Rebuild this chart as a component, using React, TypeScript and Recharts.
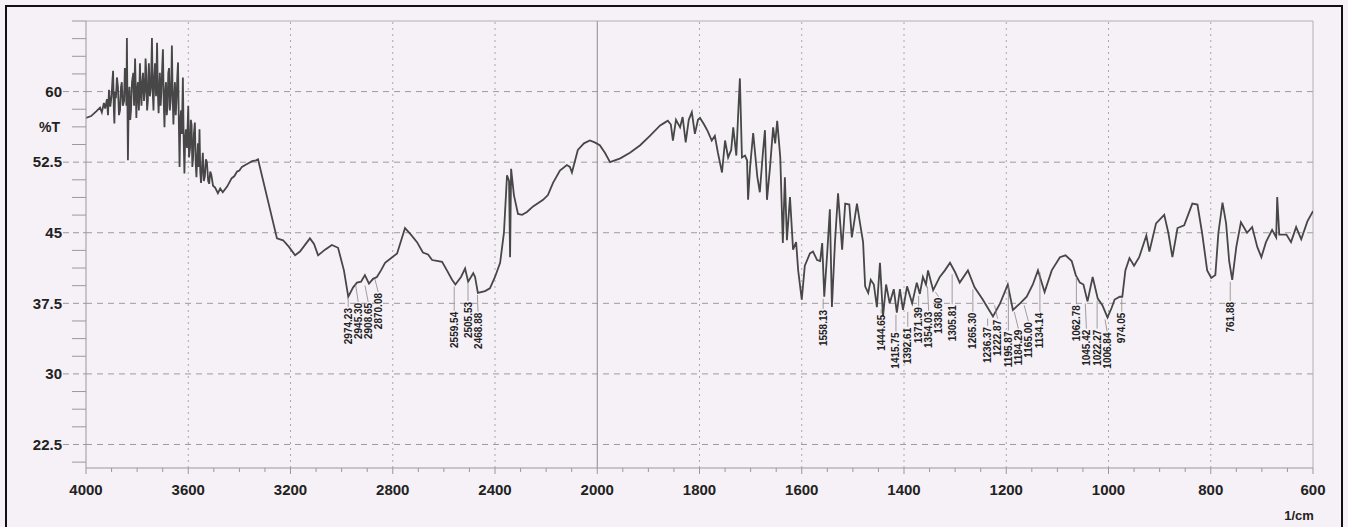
import React from "react";
import { ComposedChart, Line, Scatter, XAxis, YAxis, ReferenceLine } from "recharts";

// FTIR spectrum: [wavenumber (1/cm), %T]
const spectrum: [number, number][] = [
  [4000, 57.2], [3980, 57.4], [3960, 57.9], [3945, 58.3], [3938, 57.8], [3930, 58.8], [3925, 58.2], [3918, 59.2],
  [3914, 57.5], [3910, 60.2], [3905, 58.4], [3900, 59.5], [3897, 61.0], [3894, 62.2], [3891, 58.0], [3889, 56.6],
  [3886, 60.0], [3883, 59.3], [3879, 61.5], [3875, 60.5], [3871, 57.5], [3867, 58.0], [3863, 60.5], [3860, 61.0],
  [3856, 58.5], [3851, 59.0], [3848, 62.5], [3845, 61.8], [3842, 58.5], [3840, 65.7], [3836, 52.7], [3833, 59.0],
  [3830, 60.5], [3827, 57.0], [3824, 58.0], [3820, 61.0], [3815, 62.0], [3812, 58.5], [3808, 63.5], [3803, 57.2],
  [3800, 60.0], [3797, 61.0], [3793, 58.0], [3789, 63.0], [3786, 60.0], [3783, 58.5], [3780, 61.0], [3777, 62.0],
  [3773, 59.0], [3770, 60.0], [3767, 63.5], [3765, 62.5], [3761, 58.0], [3758, 59.0], [3756, 61.5], [3754, 63.0],
  [3750, 59.5], [3746, 60.5], [3744, 63.0], [3742, 65.7], [3739, 60.0], [3736, 58.0], [3733, 61.5], [3730, 63.0],
  [3726, 59.5], [3722, 65.2], [3719, 60.0], [3716, 57.7], [3713, 60.5], [3711, 62.0], [3708, 58.5], [3705, 60.0],
  [3702, 62.5], [3699, 64.5], [3696, 59.0], [3693, 56.2], [3690, 60.0], [3687, 61.0], [3684, 57.5], [3681, 58.5],
  [3678, 62.0], [3675, 62.5], [3672, 58.0], [3669, 59.0], [3666, 61.5], [3664, 64.9], [3661, 59.5], [3658, 56.5],
  [3655, 59.5], [3652, 61.0], [3649, 57.5], [3646, 59.0], [3643, 61.5], [3640, 63.1], [3637, 57.0], [3634, 52.0],
  [3631, 57.0], [3628, 58.0], [3625, 55.5], [3621, 61.5], [3618, 55.0], [3615, 51.3], [3612, 55.0], [3609, 56.0],
  [3605, 54.0], [3600, 58.5], [3597, 53.0], [3593, 54.0], [3590, 57.0], [3587, 56.5], [3584, 52.0], [3581, 53.0],
  [3578, 55.5], [3574, 56.7], [3571, 52.5], [3568, 50.9], [3565, 53.0], [3562, 54.5], [3559, 52.0], [3556, 56.0],
  [3553, 51.5], [3550, 50.3], [3546, 52.0], [3543, 53.5], [3539, 50.5], [3535, 51.0], [3531, 52.8], [3527, 52.5],
  [3522, 50.5], [3518, 50.2], [3514, 51.5], [3510, 51.2], [3503, 50.0], [3495, 49.8], [3484, 49.2], [3475, 49.7],
  [3465, 49.3], [3448, 49.9], [3440, 50.3], [3430, 50.8], [3420, 51.0], [3409, 51.5], [3400, 51.6], [3390, 52.0],
  [3370, 52.3], [3350, 52.6], [3335, 52.7], [3327, 52.8],
  [3253, 44.4], [3229, 44.2], [3206, 43.5], [3182, 42.6], [3163, 43.0], [3124, 44.4], [3108, 43.8], [3092, 42.6],
  [3065, 43.2], [3038, 43.7], [3014, 43.4], [2991, 41.0], [2974, 38.2], [2955, 39.2], [2940, 39.7], [2924, 39.8],
  [2909, 40.5], [2893, 39.6], [2877, 40.1], [2862, 40.3], [2846, 41.0], [2830, 41.8], [2811, 42.2], [2783, 42.8],
  [2752, 45.5], [2729, 44.8], [2705, 44.0], [2682, 42.9], [2662, 42.7], [2646, 42.1], [2627, 42.0], [2607, 41.9],
  [2588, 41.0], [2568, 40.0], [2555, 39.5], [2533, 40.3], [2517, 41.2], [2505, 39.8], [2485, 40.7], [2478, 40.3],
  [2467, 38.6], [2439, 38.8], [2420, 39.1], [2400, 40.3], [2380, 41.8], [2365, 45.0], [2353, 51.1], [2345, 50.5],
  [2341, 42.4], [2337, 51.8], [2326, 49.0], [2310, 47.0], [2294, 46.9], [2275, 47.2], [2251, 47.8], [2212, 48.5],
  [2193, 49.0], [2173, 50.3], [2146, 51.6], [2119, 52.2], [2107, 52.0], [2099, 51.4], [2076, 53.8], [2052, 54.5],
  [2029, 54.8], [2010, 54.6],
  [1995, 54.3], [1985, 53.5], [1975, 52.5], [1955, 52.9], [1936, 53.5], [1916, 54.3], [1897, 55.3], [1877, 56.4],
  [1868, 56.7], [1862, 56.9], [1856, 56.5], [1852, 54.8], [1846, 57.0], [1838, 56.2], [1833, 57.3], [1827, 54.6],
  [1821, 57.0], [1815, 57.8], [1809, 55.5], [1803, 57.0], [1799, 57.2], [1791, 56.5], [1784, 55.8], [1776, 54.8],
  [1770, 55.3], [1764, 53.5], [1756, 51.4], [1750, 54.8], [1744, 53.0], [1738, 53.8], [1734, 56.2], [1728, 53.2],
  [1724, 58.0], [1721, 61.4], [1717, 53.0], [1711, 53.2], [1707, 52.7], [1705, 48.5], [1701, 52.0], [1695, 55.6],
  [1687, 51.0], [1682, 49.3], [1676, 53.5], [1672, 55.9], [1668, 48.5], [1662, 52.0], [1656, 56.2], [1652, 54.5],
  [1648, 56.9], [1642, 53.0], [1637, 43.9], [1633, 50.9], [1629, 44.2], [1623, 48.8], [1617, 43.2], [1611, 44.0],
  [1607, 41.0], [1600, 37.9], [1594, 41.5], [1584, 42.8], [1578, 43.0], [1570, 42.1], [1564, 42.0], [1560, 43.9],
  [1556, 38.2], [1550, 43.0], [1545, 47.5], [1541, 37.1], [1535, 44.0], [1529, 49.2], [1521, 43.2], [1515, 48.1],
  [1507, 48.0], [1502, 44.5], [1492, 48.1], [1486, 46.0], [1480, 44.0], [1476, 39.3], [1470, 38.6], [1465, 40.0],
  [1459, 39.5], [1453, 37.1], [1447, 41.8], [1441, 36.1], [1435, 39.5], [1428, 37.5], [1420, 39.0], [1414, 36.5],
  [1408, 39.0], [1402, 36.8], [1394, 39.3], [1384, 37.5], [1375, 39.7], [1369, 38.5], [1363, 40.3], [1357, 39.5],
  [1353, 41.0], [1343, 38.9], [1330, 40.3], [1320, 41.0], [1310, 41.8], [1300, 40.8], [1291, 39.7], [1275, 41.0],
  [1262, 39.2], [1246, 37.9], [1236, 37.0], [1226, 36.1], [1212, 37.5], [1197, 39.5], [1187, 36.8], [1173, 37.5],
  [1160, 38.2], [1148, 39.5], [1138, 41.0], [1125, 38.7], [1111, 41.0], [1095, 42.4], [1084, 42.6], [1072, 42.0],
  [1064, 40.5], [1056, 39.7], [1049, 39.5], [1041, 37.7], [1031, 40.3], [1021, 38.0], [1012, 37.3], [1002, 36.0],
  [994, 37.0], [988, 37.9], [978, 38.2], [973, 38.2], [967, 41.0], [959, 42.3], [950, 41.5], [940, 42.4],
  [926, 44.7], [920, 43.0], [907, 46.0], [891, 46.9], [883, 45.0], [875, 42.4], [865, 45.5], [852, 45.8],
  [836, 48.1], [826, 48.0], [817, 45.0], [807, 41.0], [799, 40.2], [791, 40.5], [785, 45.0], [777, 48.2],
  [770, 46.0], [764, 42.0], [758, 40.0], [750, 43.5], [741, 46.1], [729, 45.0], [719, 45.6], [709, 43.5],
  [701, 42.4], [692, 44.0], [680, 45.3], [672, 44.5], [670, 48.8], [666, 44.8], [652, 44.8], [643, 44.0],
  [633, 45.6], [623, 44.3], [611, 46.2], [600, 47.3],
];

// Peak annotations: [wavenumber, %T at peak, %T at top of label text]
const peakLabels: [number, number, number][] = [
  [2974.23, 38.2, 37.0], [2945.30, 39.7, 37.55], [2908.65, 39.6, 37.55], [2870.08, 40.3, 38.6],
  [2559.54, 39.5, 36.6], [2505.53, 39.8, 37.65], [2468.88, 38.6, 36.5],
  [1558.13, 38.2, 36.8], [1444.65, 37.1, 36.3], [1415.75, 36.5, 34.4], [1392.61, 36.8, 34.9],
  [1371.39, 38.5, 37.1], [1354.03, 39.5, 36.6], [1338.60, 38.9, 38.1], [1305.81, 40.8, 37.3],
  [1265.30, 39.2, 36.5], [1236.37, 36.1, 35.0], [1222.87, 37.5, 35.75], [1195.87, 39.5, 34.5],
  [1184.29, 36.8, 34.7], [1165.00, 37.5, 35.5], [1134.14, 41.0, 36.5], [1062.78, 40.5, 37.3],
  [1045.42, 37.7, 34.7], [1022.27, 38.0, 34.7], [1006.84, 36.0, 34.4], [974.05, 38.2, 36.5],
  [761.88, 40.0, 37.65],
];

const xTickLabels = [4000, 3600, 3200, 2800, 2400, 2000, 1800, 1600, 1400, 1200, 1000, 800, 600];
const yTickLabels = [22.5, 30, 37.5, 45, 52.5, 60];
const yAxisTitle = "%T";
const yAxisTitleValue = 56.25;
const xAxisUnit = "1/cm";

const W = 1348;
const H = 527;
const PLOT_LEFT = 86;
const PLOT_RIGHT = 1313;
const PLOT_TOP = 21;
const PLOT_BOTTOM = 468;
const Y_MIN = 20;
const Y_MAX = 67.5;
const Y_AXIS_W = 60;
const X_AXIS_H = 30;
const NP = xTickLabels.length - 1;
const PX_PER_P = (PLOT_RIGHT - PLOT_LEFT) / NP;
const PX_PER_T = (PLOT_BOTTOM - PLOT_TOP) / (Y_MAX - Y_MIN);

const BG = "#f6f1f6";
const INK = "#222";
const FONT = "'Liberation Sans', Arial, sans-serif";

// piecewise wavenumber axis (scale change at 2000)
const toPos = (wn: number) => (wn >= 2000 ? (4000 - wn) / 400 : 5 + (2000 - wn) / 200);

const lineData = spectrum.map(([wn, t]) => ({ p: toPos(wn), t }));

const xMajor = xTickLabels.map(toPos);
const xTicks: number[] = [];
for (let i = 0; i <= NP * 4; i++) xTicks.push(i / 4);
const yTicks: number[] = [];
for (let v = 20.625; v <= Y_MAX + 1e-9; v += 1.875) yTicks.push(v);

// label placement, pushing crowded texts apart
const MIN_GAP = 10 / PX_PER_P;
const labelData = (() => {
  const sorted = [...peakLabels].sort((a, b) => b[0] - a[0]);
  const out: any[] = [];
  let last = -Infinity;
  sorted.forEach(([wn, peakT, lt]) => {
    const peakP = toPos(wn);
    const p = Math.max(peakP, last + MIN_GAP);
    last = p;
    out.push({ p, lt, peakP, peakT, text: wn.toFixed(2) });
  });
  return out;
})();

const LabelShape = (props: any) => {
  const { cx, cy, payload } = props;
  if (cx == null || cy == null || !payload) return null;
  const peakX = cx + (payload.peakP - payload.p) * PX_PER_P;
  const peakY = cy - (payload.peakT - payload.lt) * PX_PER_T;
  return (
    <g>
      <line x1={peakX} y1={peakY + 2} x2={cx} y2={cy - 1} stroke="#888" strokeWidth={0.8} />
      <text
        x={cx}
        y={cy}
        transform={`rotate(-90 ${cx} ${cy})`}
        textAnchor="end"
        dy="0.35em"
        fontSize={10}
        fontWeight="bold"
        fontFamily={FONT}
        fill={INK}
      >
        {payload.text}
      </text>
    </g>
  );
};

const XTick = (props: any) => {
  const { x, y, payload } = props;
  const v = payload.value;
  const idx = xMajor.findIndex((p) => Math.abs(p - v) < 1e-6);
  const major = idx >= 0;
  return (
    <g>
      <line x1={x} x2={x} y1={y} y2={y + (major ? 6 : 4)} stroke="#999" strokeWidth={1} />
      {major && (
        <text x={x} y={y + 22} textAnchor="middle" dy="0.35em" fontSize={15} fontWeight="bold" fontFamily={FONT} fill={INK}>
          {xTickLabels[idx]}
        </text>
      )}
      {major && idx === NP && (
        <text x={x - 14} y={y + 47} textAnchor="middle" dy="0.35em" fontSize={13} fontWeight="bold" fontFamily={FONT} fill={INK}>
          {xAxisUnit}
        </text>
      )}
    </g>
  );
};

const YTick = (props: any) => {
  const { x, y, payload } = props;
  const v = payload.value;
  const major = yTickLabels.some((m) => Math.abs(m - v) < 1e-6);
  const title = Math.abs(v - yAxisTitleValue) < 1e-6;
  return (
    <g>
      <line x1={x - (major ? 23 : 14)} x2={x} y1={y} y2={y} stroke="#999" strokeWidth={1} strokeDasharray={major ? "6 4" : undefined} />
      {major && (
        <text x={x - 24} y={y} textAnchor="end" dy="0.35em" fontSize={15} fontWeight="bold" fontFamily={FONT} fill={INK}>
          {String(v)}
        </text>
      )}
      {title && (
        <text x={x - 26} y={y} textAnchor="end" dy="0.35em" fontSize={14} fontWeight="bold" fontFamily={FONT} fill={INK}>
          {yAxisTitle}
        </text>
      )}
    </g>
  );
};

export default function App() {
  return (
    <div style={{ position: "absolute", left: 0, top: 0, width: W, height: H, overflow: "hidden", background: BG }}>
      <div
        style={{
          position: "absolute",
          left: 5,
          top: 5,
          width: W - 14,
          height: H,
          borderTop: "2px solid #111",
          borderLeft: "2px solid #111",
          borderRight: "2px solid #111",
        }}
      />
      <ComposedChart
        width={W}
        height={H}
        margin={{ top: PLOT_TOP, right: W - PLOT_RIGHT, bottom: H - PLOT_BOTTOM - X_AXIS_H, left: PLOT_LEFT - Y_AXIS_W }}
        style={{ position: "absolute", left: 0, top: 0 }}
      >
        <XAxis
          type="number"
          dataKey="p"
          domain={[0, NP]}
          ticks={xTicks}
          interval={0}
          height={X_AXIS_H}
          tickSize={0}
          tickMargin={0}
          tickLine={false}
          axisLine={{ stroke: "#999", strokeWidth: 1 }}
          tick={<XTick />}
          allowDataOverflow
        />
        <YAxis
          type="number"
          domain={[Y_MIN, Y_MAX]}
          ticks={yTicks}
          interval={0}
          width={Y_AXIS_W}
          tickSize={0}
          tickMargin={0}
          tickLine={false}
          axisLine={{ stroke: "#999", strokeWidth: 1 }}
          tick={<YTick />}
          allowDataOverflow
        />
        {yTickLabels.map((v) => (
          <ReferenceLine key={"h" + v} y={v} stroke="#9c9c9c" strokeWidth={1} strokeDasharray="6 5" ifOverflow="extendDomain" />
        ))}
        {xMajor.slice(1, NP).map((p, i) => (
          <ReferenceLine
            key={"v" + i}
            x={p}
            stroke={xTickLabels[i + 1] === 2000 ? "#8c8c8c" : "#a8a8a8"}
            strokeWidth={1}
            strokeDasharray={xTickLabels[i + 1] === 2000 ? undefined : "2 4"}
          />
        ))}
        <ReferenceLine y={Y_MAX} stroke="#b0b0b0" strokeWidth={1} />
        <ReferenceLine x={NP} stroke="#b0b0b0" strokeWidth={1} />
        <Line
          data={lineData}
          dataKey="t"
          type="linear"
          stroke="#474747"
          strokeWidth={1.8}
          dot={false}
          activeDot={false}
          isAnimationActive={false}
        />
        <Scatter data={labelData} dataKey="lt" shape={<LabelShape />} isAnimationActive={false} />
      </ComposedChart>
    </div>
  );
}
